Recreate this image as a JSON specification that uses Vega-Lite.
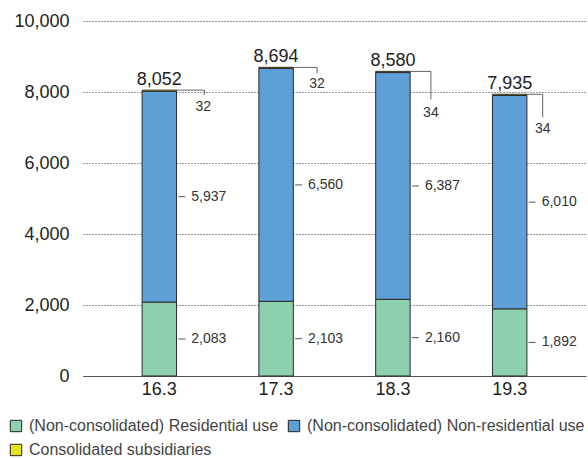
{
  "$schema": "https://vega.github.io/schema/vega-lite/v6.json",
  "width": 503,
  "height": 355,
  "autosize": {"type": "none"},
  "padding": {"left": 83, "top": 21, "right": 2, "bottom": 83},
  "background": "white",
  "config": {
    "font": "Liberation Sans",
    "view": {"stroke": null}
  },
  "datasets": {
    "bars": [
      {"cat": "16.3", "series": "(Non-consolidated) Residential use", "value": 2083},
      {"cat": "16.3", "series": "(Non-consolidated) Non-residential use", "value": 5937},
      {"cat": "16.3", "series": "Consolidated subsidiaries", "value": 32},
      {"cat": "17.3", "series": "(Non-consolidated) Residential use", "value": 2103},
      {"cat": "17.3", "series": "(Non-consolidated) Non-residential use", "value": 6560},
      {"cat": "17.3", "series": "Consolidated subsidiaries", "value": 32},
      {"cat": "18.3", "series": "(Non-consolidated) Residential use", "value": 2160},
      {"cat": "18.3", "series": "(Non-consolidated) Non-residential use", "value": 6387},
      {"cat": "18.3", "series": "Consolidated subsidiaries", "value": 34},
      {"cat": "19.3", "series": "(Non-consolidated) Residential use", "value": 1892},
      {"cat": "19.3", "series": "(Non-consolidated) Non-residential use", "value": 6010},
      {"cat": "19.3", "series": "Consolidated subsidiaries", "value": 34}
    ],
    "seriesOrder": [
      {"series": "(Non-consolidated) Residential use", "rank": 1},
      {"series": "(Non-consolidated) Non-residential use", "rank": 2},
      {"series": "Consolidated subsidiaries", "rank": 3}
    ],
    "totals": [
      {"cat": "16.3", "total": 8052, "consol": 32},
      {"cat": "17.3", "total": 8694, "consol": 32},
      {"cat": "18.3", "total": 8580, "consol": 34},
      {"cat": "19.3", "total": 7935, "consol": 34}
    ]
  },
  "encoding": {
    "x": {
      "field": "cat", "type": "nominal",
      "scale": {"paddingInner": 0.705, "paddingOuter": 0.506},
      "axis": {
        "title": null, "labelAngle": 0, "ticks": false,
        "labelFontSize": 18, "labelColor": "#222", "labelPadding": 4,
        "domainColor": "#555", "domainWidth": 1.2
      }
    }
  },
  "layer": [
    {
      "data": {"name": "bars"},
      "transform": [
        {"lookup": "series", "from": {"data": {"name": "seriesOrder"}, "key": "series", "fields": ["rank"]}}
      ],
      "mark": {"type": "bar", "stroke": "#2a2a2a", "strokeWidth": 1},
      "encoding": {
        "y": {
          "field": "value", "type": "quantitative", "stack": "zero",
          "scale": {"domain": [0, 10000], "nice": false},
          "axis": {
            "title": null, "values": [0, 2000, 4000, 6000, 8000, 10000],
            "labelExpr": "format(datum.value, ',.0f')", "domain": false, "ticks": false,
            "labelFontSize": 18, "labelColor": "#222", "labelPadding": 14,
            "gridColor": "#333", "gridDash": [1, 2], "gridWidth": 1
          }
        },
        "color": {
          "field": "series", "type": "nominal",
          "scale": {
            "domain": ["(Non-consolidated) Residential use", "(Non-consolidated) Non-residential use", "Consolidated subsidiaries"],
            "range": ["#8dd0b0", "#5e9fd7", "#e6e21c"]
          },
          "legend": {
            "title": null, "orient": "none", "legendX": -75, "legendY": 397,
            "direction": "horizontal", "columns": 2,
            "symbolType": "square", "symbolSize": 130,
            "symbolStrokeColor": "#222", "symbolStrokeWidth": 1,
            "labelFontSize": 16, "labelColor": "#444", "labelFont": "Liberation Sans",
            "rowPadding": 8, "columnPadding": 7, "labelOffset": 5, "labelLimit": 400
          }
        },
        "order": {"field": "rank", "type": "quantitative", "sort": "ascending"}
      }
    },
    {
      "data": {"name": "bars"},
      "transform": [
        {"filter": "datum.series != 'Consolidated subsidiaries'"},
        {"stack": "value", "groupby": ["cat"], "sort": [{"field": "series", "order": "descending"}], "as": ["v0", "v1"]},
        {"fold": ["v0", "v1"], "as": ["edgeName", "edge"]},
        {"aggregate": [{"op": "mean", "field": "edge", "as": "mid"}], "groupby": ["cat", "series", "value"]}
      ],
      "layer": [
        {
          "mark": {"type": "rule", "color": "#555", "strokeWidth": 1, "xOffset": 19, "x2Offset": 26},
          "encoding": {
            "y": {"field": "mid", "type": "quantitative"},
            "x2": {"field": "cat"}
          }
        },
        {
          "mark": {"type": "text", "align": "left", "baseline": "middle", "xOffset": 32, "fontSize": 14, "color": "#333"},
          "encoding": {
            "y": {"field": "mid", "type": "quantitative"},
            "text": {"field": "value", "type": "quantitative", "format": ","}
          }
        }
      ]
    },
    {
      "data": {"name": "totals"},
      "mark": {"type": "text", "baseline": "alphabetic", "dy": -5, "fontSize": 18, "color": "#222"},
      "encoding": {
        "y": {"field": "total", "type": "quantitative"},
        "text": {"field": "total", "type": "quantitative", "format": ","}
      }
    },
    {
      "data": {"name": "totals"},
      "transform": [{"filter": {"field": "cat", "equal": "16.3"}}],
      "layer": [
        {"mark": {"type": "rule", "color": "#666", "xOffset": 17, "x2Offset": 45}, "encoding": {"y": {"field": "total", "type": "quantitative"}, "x2": {"field": "cat"}}},
        {"mark": {"type": "rule", "color": "#666", "xOffset": 45, "y2Offset": 5}, "encoding": {"y": {"field": "total", "type": "quantitative"}, "y2": {"field": "total"}}},
        {"mark": {"type": "text", "xOffset": 44, "dy": 21, "baseline": "alphabetic", "fontSize": 14, "color": "#333"}, "encoding": {"y": {"field": "total", "type": "quantitative"}, "text": {"field": "consol", "type": "quantitative"}}}
      ]
    },
    {
      "data": {"name": "totals"},
      "transform": [{"filter": {"field": "cat", "equal": "17.3"}}],
      "layer": [
        {"mark": {"type": "rule", "color": "#666", "xOffset": 17, "x2Offset": 41}, "encoding": {"y": {"field": "total", "type": "quantitative"}, "x2": {"field": "cat"}}},
        {"mark": {"type": "rule", "color": "#666", "xOffset": 41, "y2Offset": 6}, "encoding": {"y": {"field": "total", "type": "quantitative"}, "y2": {"field": "total"}}},
        {"mark": {"type": "text", "xOffset": 41, "dy": 21, "baseline": "alphabetic", "fontSize": 14, "color": "#333"}, "encoding": {"y": {"field": "total", "type": "quantitative"}, "text": {"field": "consol", "type": "quantitative"}}}
      ]
    },
    {
      "data": {"name": "totals"},
      "transform": [{"filter": {"field": "cat", "equal": "18.3"}}],
      "layer": [
        {"mark": {"type": "rule", "color": "#666", "xOffset": 17, "x2Offset": 38}, "encoding": {"y": {"field": "total", "type": "quantitative"}, "x2": {"field": "cat"}}},
        {"mark": {"type": "rule", "color": "#666", "xOffset": 38, "y2Offset": 28}, "encoding": {"y": {"field": "total", "type": "quantitative"}, "y2": {"field": "total"}}},
        {"mark": {"type": "text", "xOffset": 38, "dy": 46, "baseline": "alphabetic", "fontSize": 14, "color": "#333"}, "encoding": {"y": {"field": "total", "type": "quantitative"}, "text": {"field": "consol", "type": "quantitative"}}}
      ]
    },
    {
      "data": {"name": "totals"},
      "transform": [{"filter": {"field": "cat", "equal": "19.3"}}],
      "layer": [
        {"mark": {"type": "rule", "color": "#666", "xOffset": 17, "x2Offset": 33}, "encoding": {"y": {"field": "total", "type": "quantitative"}, "x2": {"field": "cat"}}},
        {"mark": {"type": "rule", "color": "#666", "xOffset": 33, "y2Offset": 23}, "encoding": {"y": {"field": "total", "type": "quantitative"}, "y2": {"field": "total"}}},
        {"mark": {"type": "text", "xOffset": 33, "dy": 39, "baseline": "alphabetic", "fontSize": 14, "color": "#333"}, "encoding": {"y": {"field": "total", "type": "quantitative"}, "text": {"field": "consol", "type": "quantitative"}}}
      ]
    }
  ]
}
